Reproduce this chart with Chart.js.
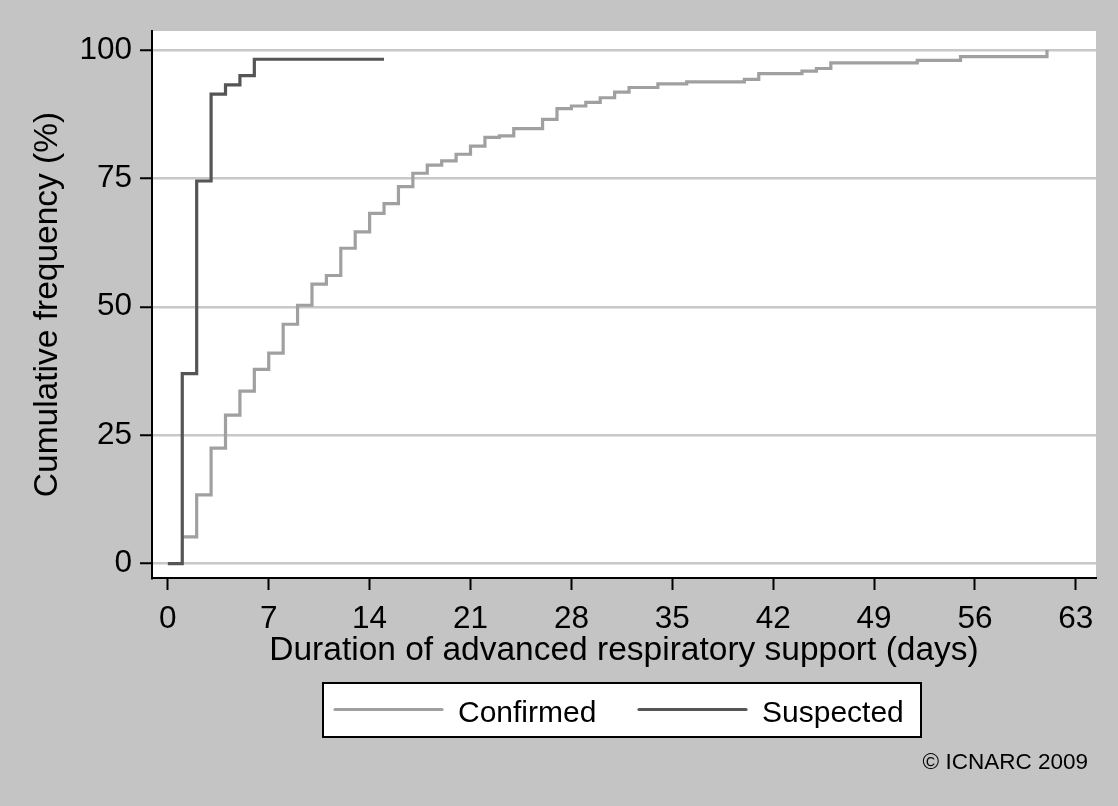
<!DOCTYPE html>
<html>
<head>
<meta charset="utf-8">
<title>Duration of advanced respiratory support</title>
<script src="https://cdn.jsdelivr.net/npm/chart.js@4.4.1/dist/chart.umd.min.js"></script>
<style>
  html, body { margin: 0; padding: 0; background: #c4c4c4; }
  #wrap { width: 1118px; height: 806px; }
</style>
</head>
<body>
<div id="wrap"><canvas id="myChart" width="1118" height="806"></canvas></div>
<script>
// cumulative frequency (%) by day
const confirmedDays = [1, 2, 3, 4, 5, 6, 7, 8, 9, 10, 11, 12, 13, 14, 15, 16, 17, 18, 19, 20,
  21, 22, 23, 24, 26, 27, 28, 29, 30, 31, 32, 34, 36, 40, 41, 44, 45, 46, 52, 55, 61];
const confirmedPct = [5.2, 13.4, 22.5, 28.9, 33.6, 37.8, 41.0, 46.6, 50.3, 54.4, 56.1, 61.4, 64.6, 68.2, 70.1, 73.4, 76.0, 77.6, 78.4, 79.7,
  81.3, 83.0, 83.3, 84.7, 86.5, 88.6, 89.1, 89.8, 90.7, 91.8, 92.7, 93.4, 93.8, 94.3, 95.4, 95.9, 96.4, 97.5, 98.0, 98.7, 100];

const suspectedDays = [0, 1, 2, 3, 4, 5, 6, 15];
const suspectedPct = [0, 37.0, 74.5, 91.4, 93.2, 95.0, 98.2, 98.2];

const xTicks = [0, 7, 14, 21, 28, 35, 42, 49, 56, 63];
const yTicks = [0, 25, 50, 75, 100];

const seriesLabels = ['Confirmed', 'Suspected'];
const xTitle = 'Duration of advanced respiratory support (days)';
const yTitle = 'Cumulative frequency (%)';
const credit = '\u00A9 ICNARC 2009';

const FONT = '"Liberation Sans", Arial, Helvetica, sans-serif';

function toPoints(xs, ys) {
  return xs.map((x, i) => ({ x: x, y: ys[i] }));
}

// background, plot region, titles, legend box and credit line
const decorations = {
  id: 'decorations',
  beforeDraw(chart) {
    const { ctx, chartArea } = chart;
    ctx.save();
    ctx.fillStyle = '#c4c4c4';
    ctx.fillRect(0, 0, chart.width, chart.height);
    ctx.fillStyle = '#ffffff';
    ctx.fillRect(chartArea.left, chartArea.top, chartArea.right - chartArea.left, chartArea.bottom - chartArea.top);
    ctx.restore();
  },
  afterDraw(chart) {
    const { ctx, chartArea } = chart;
    ctx.save();
    ctx.fillStyle = '#000';
    ctx.textBaseline = 'alphabetic';

    // x title
    ctx.font = '33.5px ' + FONT;
    ctx.textAlign = 'center';
    ctx.fillText(xTitle, (chartArea.left + chartArea.right) / 2, 660);

    // y title
    ctx.save();
    ctx.translate(57, (chartArea.top + chartArea.bottom) / 2);
    ctx.rotate(-Math.PI / 2);
    ctx.fillText(yTitle, 0, 0);
    ctx.restore();

    // legend
    const box = { x: 323, y: 683, w: 598, h: 54 };
    ctx.fillStyle = '#fff';
    ctx.fillRect(box.x, box.y, box.w, box.h);
    ctx.strokeStyle = '#000';
    ctx.lineWidth = 2;
    ctx.strokeRect(box.x, box.y, box.w, box.h);

    const items = [
      { x1: 335, x2: 442, tx: 458 },
      { x1: 639, x2: 746, tx: 762 }
    ];
    ctx.font = '30px ' + FONT;
    ctx.textAlign = 'left';
    items.forEach((it, i) => {
      const ds = chart.data.datasets[i];
      ctx.strokeStyle = ds.borderColor;
      ctx.lineWidth = ds.borderWidth;
      ctx.lineCap = 'round';
      ctx.beginPath();
      ctx.moveTo(it.x1, 709.5);
      ctx.lineTo(it.x2, 709.5);
      ctx.stroke();
      ctx.fillStyle = '#000';
      ctx.fillText(ds.label, it.tx, 721.5);
    });

    // credit
    ctx.font = '22.5px ' + FONT;
    ctx.textAlign = 'right';
    ctx.fillText(credit, 1088, 769);
    ctx.restore();
  }
};

const ctx = document.getElementById('myChart').getContext('2d');
const myChart = new Chart(ctx, {
  type: 'line',
  data: {
    datasets: [{
      label: seriesLabels[0],
      data: toPoints(confirmedDays, confirmedPct),
      borderColor: '#a0a0a0',
      borderWidth: 3.2,
      stepped: 'before',
      pointRadius: 0,
      fill: false,
      order: 1
    }, {
      label: seriesLabels[1],
      data: toPoints(suspectedDays, suspectedPct),
      borderColor: '#555555',
      borderWidth: 3.2,
      stepped: 'before',
      pointRadius: 0,
      fill: false,
      order: 0
    }]
  },
  options: {
    responsive: false,
    animation: false,
    devicePixelRatio: 1,
    layout: { padding: { left: 0, right: 22, top: 31, bottom: 0 } },
    plugins: {
      legend: { display: false },
      tooltip: { enabled: false }
    },
    scales: {
      x: {
        type: 'linear',
        min: -1.1,
        max: 64.4,
        afterBuildTicks: (scale) => { scale.ticks = xTicks.map(v => ({ value: v })); },
        afterFit: (scale) => { scale.height = 228; },
        border: { display: true, color: '#000', width: 2 },
        grid: {
          drawOnChartArea: false,
          drawTicks: true,
          tickLength: 12,
          tickWidth: 2,
          tickColor: '#000'
        },
        ticks: {
          color: '#000',
          font: { family: FONT, size: 31.5 },
          padding: 10,
          maxRotation: 0,
          autoSkip: false
        }
      },
      y: {
        type: 'linear',
        min: -2.8,
        max: 103.7,
        afterBuildTicks: (scale) => { scale.ticks = yTicks.map(v => ({ value: v })); },
        afterFit: (scale) => { scale.width = 152; },
        border: { display: true, color: '#000', width: 2 },
        grid: {
          color: '#c8c8c8',
          lineWidth: 2.5,
          drawTicks: true,
          tickLength: 12,
          tickWidth: 2,
          tickColor: '#000'
        },
        ticks: {
          color: '#000',
          font: { family: FONT, size: 31.5 },
          padding: 8,
          autoSkip: false
        }
      }
    }
  },
  plugins: [decorations]
});
</script>
</body>
</html>
